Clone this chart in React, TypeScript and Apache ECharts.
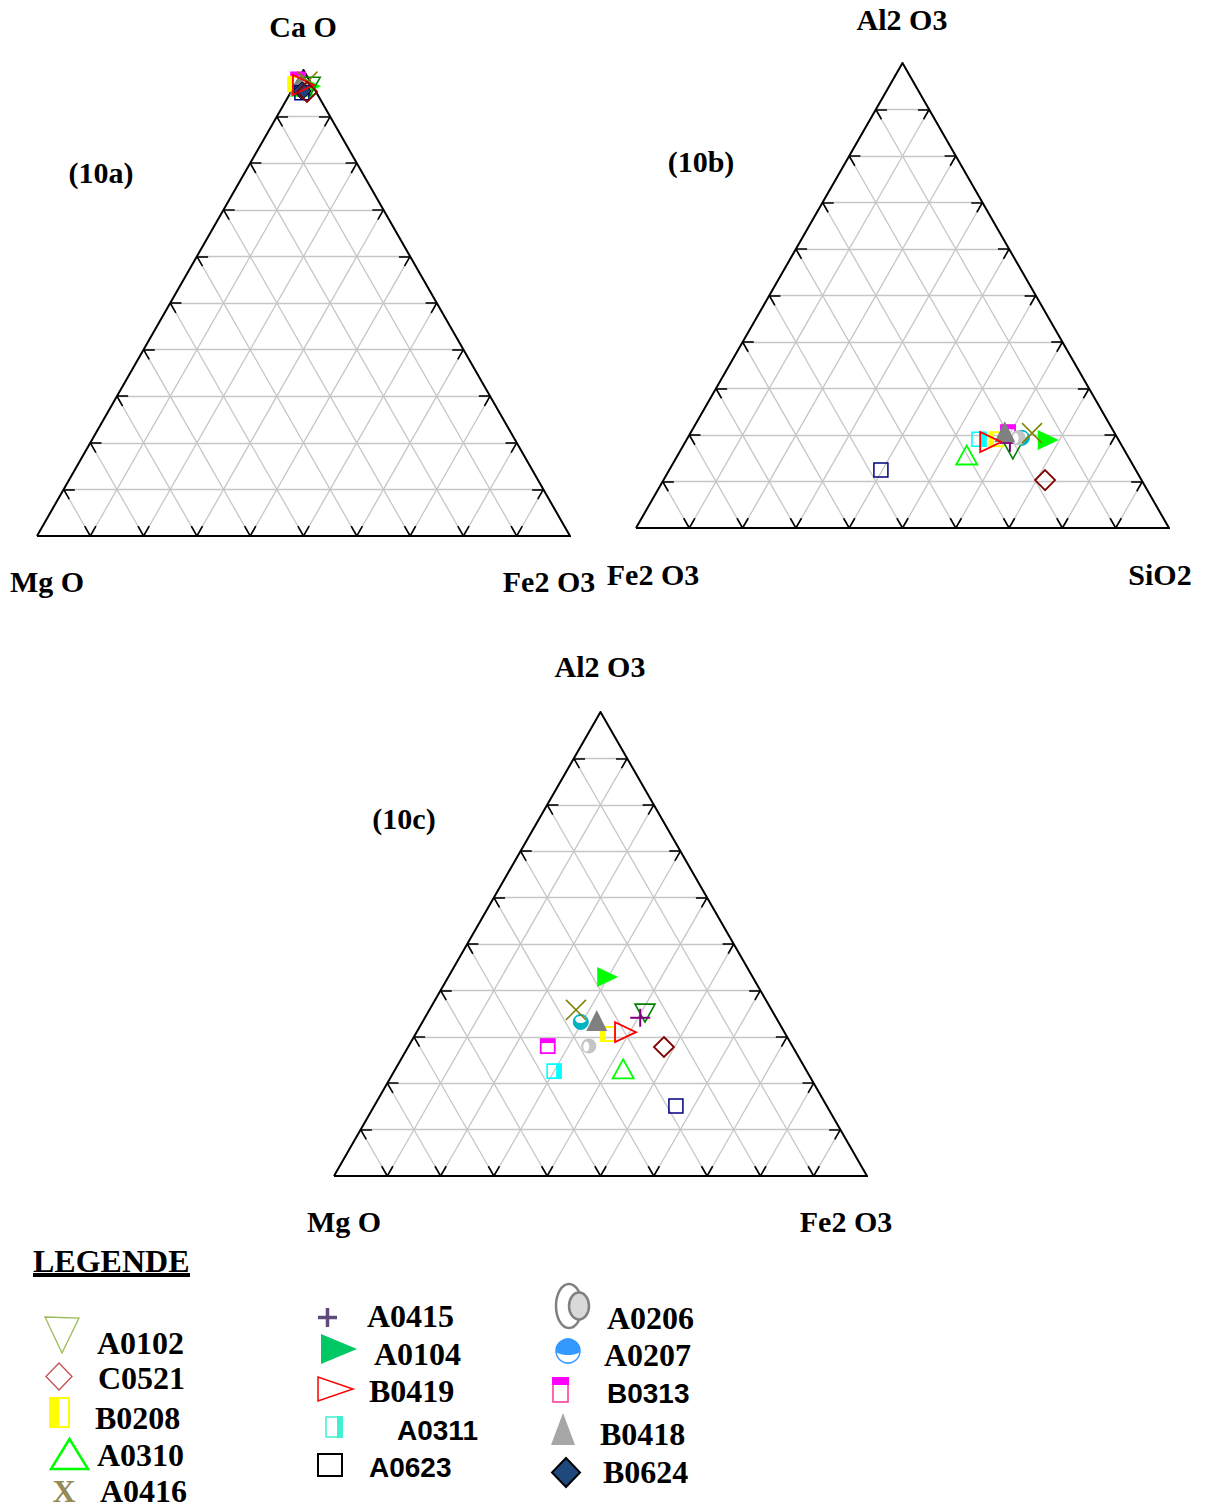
import React, { useEffect, useRef } from "react";
import * as echarts from "echarts";

// ---------------- DATA ----------------
const SAMPLES = ["A0102", "C0521", "B0208", "A0310", "A0416", "A0415", "A0104", "B0419", "A0311", "A0623", "A0206", "A0207", "B0313", "B0418", "B0624"];

// Diagram 10a : CaO (top) – MgO (left) – Fe2O3 (right), %
const CAO_10A = [96.5, 95.3, 97.0, 96.5, 97.5, 96.5, 96.5, 96.8, 97.0, 95.1, 96.5, 96.5, 98.0, 96.8, 95.5];
const MGO_10A = [0.5, 1.7, 3.0, 2.0, 0.5, 2.0, 0.5, 1.7, 3.0, 2.75, 2.0, 2.0, 2.0, 2.3, 2.5];
const FE2O3_10A = [3.0, 3.0, 0.0, 1.5, 2.0, 1.5, 3.0, 1.5, 0.0, 2.15, 1.5, 1.5, 0.0, 0.9, 2.0];

// Diagram 10b : Al2O3 (top) – Fe2O3 (left) – SiO2 (right), %
const AL2O3_10B = [16.8, 10.3, 19.1, 15.7, 20.4, 18.3, 18.9, 18.5, 19.1, 12.5, 19.4, 19.4, 20.6, 20.6, null];
const FE2O3_10B = [20.9, 18.1, 22.8, 30.1, 15.5, 20.7, 13.3, 24.3, 26.1, 47.8, 18.6, 17.9, 19.9, 20.5, null];
const SIO2_10B = [62.3, 71.6, 58.1, 54.2, 64.1, 61.0, 67.8, 57.2, 54.8, 39.7, 62.0, 62.7, 59.5, 58.9, null];

// Diagram 10c : Al2O3 (top) – MgO (left) – Fe2O3 (right), %
const AL2O3_10C = [35.1, 27.8, 30.6, 23.1, 35.8, 34.1, 42.9, 31.0, 22.6, 15.1, 28.0, 33.2, 28.0, 33.4, null];
const MGO_10C = [24.1, 24.2, 33.3, 34.2, 36.7, 25.5, 27.3, 29.9, 47.4, 28.3, 38.2, 37.1, 45.9, 34.0, null];
const FE2O3_10C = [40.8, 48.0, 36.1, 42.7, 27.5, 40.4, 29.8, 39.1, 30.0, 56.6, 33.8, 29.7, 26.1, 32.6, null];

// grid fractions (10 % steps)
const GRID_STEPS = [0.1, 0.2, 0.3, 0.4, 0.5, 0.6, 0.7, 0.8, 0.9];

// drawing order (last on top)
const DRAW_ORDER = ["B0313", "A0311", "B0208", "A0310", "A0104", "A0102", "A0415", "A0207", "A0206", "B0418", "A0416", "A0623", "B0624", "B0419", "C0521"];

// ---------------- LAYOUT ----------------
const SERIF = '"Liberation Serif", "Times New Roman", serif';
const SANS = '"Liberation Sans", Arial, sans-serif';
const TICK_LEN = 0.021;

const DIAGRAMS = [
  {
    top: CAO_10A, left: MGO_10A, right: FE2O3_10A,
    box: { left: 37, top: 70, width: 533, height: 466 },
    labels: [
      { text: "Ca O", x: 303, y: 26 },
      { text: "Mg O", x: 47, y: 581 },
      { text: "Fe2 O3", x: 549, y: 581 },
      { text: "(10a)", x: 101, y: 172 },
    ],
  },
  {
    top: AL2O3_10B, left: FE2O3_10B, right: SIO2_10B,
    box: { left: 636, top: 63, width: 533, height: 465 },
    labels: [
      { text: "Al2 O3", x: 902, y: 19 },
      { text: "Fe2 O3", x: 653, y: 574 },
      { text: "SiO2", x: 1160, y: 574 },
      { text: "(10b)", x: 701, y: 161 },
    ],
  },
  {
    top: AL2O3_10C, left: MGO_10C, right: FE2O3_10C,
    box: { left: 334, top: 712, width: 533, height: 464 },
    labels: [
      { text: "Al2 O3", x: 600, y: 666 },
      { text: "Mg O", x: 344, y: 1221 },
      { text: "Fe2 O3", x: 846, y: 1221 },
      { text: "(10c)", x: 404, y: 818 },
    ],
  },
];

function toXY(t: number, l: number, r: number) {
  const s = t + l + r;
  const tt = t / s;
  const rr = r / s;
  return [rr + tt / 2, tt];
}

function gridSegments() {
  const segs: number[][][] = [];
  for (const f of GRID_STEPS) {
    segs.push([[f / 2, f], [1 - f / 2, f]]);
    segs.push([[f, 0], [f + (1 - f) / 2, 1 - f]]);
    segs.push([[1 - f, 0], [(1 - f) / 2, 1 - f]]);
  }
  return segs;
}

function tickSegments(segs: number[][][]) {
  const out: number[][][] = [];
  for (const [a, b] of segs) {
    const dx = b[0] - a[0];
    const dy = b[1] - a[1];
    const len = Math.hypot(dx, (dy * Math.sqrt(3)) / 2);
    const k = TICK_LEN / len;
    out.push([a, [a[0] + dx * k, a[1] + dy * k]]);
    out.push([b, [b[0] - dx * k, b[1] - dy * k]]);
  }
  return out;
}

const OUTLINE = [[0, 0], [1, 0], [0.5, 1], [0, 0]];

// ---------------- MARKERS ----------------
const none = "none";
function poly(points: number[][], style: any) {
  return { type: "polygon", shape: { points }, style };
}
function seg(x1: number, y1: number, x2: number, y2: number, stroke: string, lineWidth: number) {
  return { type: "line", shape: { x1, y1, x2, y2 }, style: { stroke, lineWidth } };
}
function rect(x: number, y: number, w: number, h: number, style: any) {
  return { type: "rect", shape: { x, y, width: w, height: h }, style };
}

function plotMarker(name: string, cx: number, cy: number): any[] {
  switch (name) {
    case "A0102":
      return [poly([[cx - 10, cy - 9], [cx + 10, cy - 9], [cx, cy + 9]], { fill: none, stroke: "#008000", lineWidth: 1.6 })];
    case "C0521":
      return [poly([[cx, cy - 10], [cx + 10, cy], [cx, cy + 10], [cx - 10, cy]], { fill: none, stroke: "#800000", lineWidth: 1.8 })];
    case "B0208":
      return [
        rect(cx - 7.5, cy - 7.5, 5, 15, { fill: "#FFFF00" }),
        rect(cx - 7, cy - 7, 14, 14, { fill: none, stroke: "#FFFF00", lineWidth: 2 }),
      ];
    case "A0310":
      return [poly([[cx - 10.5, cy + 9.5], [cx + 10.5, cy + 9.5], [cx, cy - 9.5]], { fill: none, stroke: "#00FF00", lineWidth: 1.8 })];
    case "A0416":
      return [seg(cx - 10, cy - 10, cx + 10, cy + 10, "#808000", 1.5), seg(cx + 10, cy - 10, cx - 10, cy + 10, "#808000", 1.5)];
    case "A0415":
      return [seg(cx - 10, cy, cx + 10, cy, "#800080", 2), seg(cx, cy - 9, cx, cy + 9, "#800080", 2)];
    case "A0104":
      return [poly([[cx - 10, cy - 10], [cx - 10, cy + 10], [cx + 11, cy]], { fill: "#00FF00" })];
    case "B0419":
      return [poly([[cx - 10, cy - 10], [cx - 10, cy + 10], [cx + 11, cy]], { fill: none, stroke: "#FF0000", lineWidth: 1.8 })];
    case "A0311":
      return [
        rect(cx + 2, cy - 7.5, 5, 15, { fill: "#00FFFF" }),
        rect(cx - 7, cy - 7, 14, 14, { fill: none, stroke: "#00FFFF", lineWidth: 1.6 }),
      ];
    case "A0623":
      return [rect(cx - 7, cy - 7, 14, 14, { fill: none, stroke: "#000080", lineWidth: 1.5 })];
    case "A0206":
      return [
        { type: "circle", shape: { cx, cy, r: 7.5 }, style: { fill: "#C4C4C4" } },
        { type: "ellipse", shape: { cx: cx - 2.5, cy: cy + 0.5, rx: 3, ry: 5.2 }, style: { fill: "#FFFFFF" } },
      ];
    case "A0207":
      return [
        { type: "circle", shape: { cx, cy, r: 7.5 }, style: { fill: "#00B4C4", stroke: "#00B4C4", lineWidth: 1 } },
        { type: "ellipse", shape: { cx, cy: cy - 2.5, rx: 5.5, ry: 3.5 }, style: { fill: "#FFFFFF" } },
      ];
    case "B0313":
      return [
        rect(cx - 7.5, cy - 7.5, 15, 4.5, { fill: "#FF00FF" }),
        rect(cx - 7, cy - 7, 14, 14, { fill: none, stroke: "#FF00FF", lineWidth: 1.8 }),
      ];
    case "B0418":
      return [poly([[cx - 10.5, cy + 10], [cx + 10.5, cy + 10], [cx, cy - 11]], { fill: "#808080" })];
    case "B0624":
      return [poly([[cx, cy - 9], [cx + 9, cy], [cx, cy + 9], [cx - 9, cy]], { fill: "#1F3F7F", stroke: "#000", lineWidth: 1 })];
  }
  return [];
}

function legendMarkers(): any[] {
  return [
    // column 1
    poly([[45, 1317], [79, 1318], [62, 1353]], { fill: none, stroke: "#9BBB59", lineWidth: 1.3 }),
    poly([[59, 1363], [72, 1376.5], [59, 1390], [46, 1376.5]], { fill: none, stroke: "#C0504D", lineWidth: 1.3 }),
    rect(50, 1398, 19, 29, { fill: "#FFFFFF", stroke: "#FFFF00", lineWidth: 2 }),
    rect(49, 1397, 10, 31, { fill: "#FFFF00" }),
    poly([[51, 1469], [88, 1469], [69.5, 1439]], { fill: none, stroke: "#00FF00", lineWidth: 2.5 }),
    { type: "text", x: 64, y: 1491, style: { text: "X", fill: "#948A54", fontSize: 32, fontWeight: "bold", fontFamily: SERIF, textAlign: "center", textVerticalAlign: "middle" } },
    // column 2
    seg(318, 1317.5, 337, 1317.5, "#604A7B", 3.5),
    seg(327.5, 1308, 327.5, 1327, "#604A7B", 3.5),
    poly([[321, 1334], [321, 1364], [357, 1349]], { fill: "#00C864" }),
    poly([[318, 1377], [318, 1401], [353, 1389]], { fill: none, stroke: "#FF0000", lineWidth: 1.5 }),
    rect(326, 1417, 16, 20, { fill: "#FFFFFF", stroke: "#40F0D0", lineWidth: 1.5 }),
    rect(337, 1416, 6, 22, { fill: "#40F0D0" }),
    rect(318, 1454, 24, 22, { fill: none, stroke: "#000000", lineWidth: 2 }),
    // column 3
    { type: "ellipse", shape: { cx: 569, cy: 1306, rx: 13, ry: 22 }, style: { fill: none, stroke: "#808080", lineWidth: 2.5 } },
    { type: "ellipse", shape: { cx: 579, cy: 1306, rx: 10, ry: 13.5 }, style: { fill: "#D9D9D9", stroke: "#808080", lineWidth: 2.5 } },
    { type: "circle", shape: { cx: 568, cy: 1351, r: 12 }, style: { fill: "#FFFFFF", stroke: "#3399FF", lineWidth: 1.5 } },
    { type: "sector", shape: { cx: 568, cy: 1351, r: 12, r0: 0, startAngle: Math.PI, endAngle: Math.PI * 2 }, style: { fill: "#3399FF" } },
    { type: "ellipse", shape: { cx: 568, cy: 1351, rx: 12, ry: 4 }, style: { fill: "#3399FF" } },
    rect(553, 1378, 15, 24, { fill: "#FFFFFF", stroke: "#FF3399", lineWidth: 1.5 }),
    rect(552, 1377, 17, 8, { fill: "#FF00FF" }),
    poly([[551, 1445], [575, 1445], [563, 1413]], { fill: "#A6A6A6" }),
    poly([[566, 1458], [580, 1472.5], [566, 1487], [552, 1472.5]], { fill: "#1F497D", stroke: "#000000", lineWidth: 2 }),
  ];
}

const LEGEND_LABELS = [
  { text: "A0102", x: 97, y: 1343, sans: false },
  { text: "C0521", x: 98, y: 1378, sans: false },
  { text: "B0208", x: 95, y: 1418, sans: false },
  { text: "A0310", x: 97, y: 1455, sans: false },
  { text: "A0416", x: 100, y: 1491, sans: false },
  { text: "A0415", x: 367, y: 1316, sans: false },
  { text: "A0104", x: 374, y: 1354, sans: false },
  { text: "B0419", x: 369, y: 1391, sans: false },
  { text: "A0311", x: 397, y: 1430, sans: true },
  { text: "A0623", x: 369, y: 1467, sans: true },
  { text: "A0206", x: 607, y: 1318, sans: false },
  { text: "A0207", x: 604, y: 1355, sans: false },
  { text: "B0313", x: 607, y: 1393, sans: true },
  { text: "B0418", x: 600, y: 1434, sans: false },
  { text: "B0624", x: 603, y: 1472, sans: false },
];

function buildOption() {
  const grids: any[] = [];
  const xAxes: any[] = [];
  const yAxes: any[] = [];
  const series: any[] = [];
  const graphics: any[] = [];
  const gsegs = gridSegments();
  const tsegs = tickSegments(gsegs);

  DIAGRAMS.forEach((d, i) => {
    grids.push({ ...d.box });
    xAxes.push({ type: "value", gridIndex: i, min: 0, max: 1, show: false });
    yAxes.push({ type: "value", gridIndex: i, min: 0, max: 1, show: false });
    series.push({
      type: "lines", coordinateSystem: "cartesian2d", xAxisIndex: i, yAxisIndex: i, silent: true, z: 1,
      data: gsegs.map((c) => ({ coords: c })),
      lineStyle: { color: "#C6C6C6", width: 1.3, opacity: 1 },
    });
    series.push({
      type: "lines", coordinateSystem: "cartesian2d", xAxisIndex: i, yAxisIndex: i, silent: true, z: 2,
      data: tsegs.map((c) => ({ coords: c })),
      lineStyle: { color: "#000000", width: 1.6, opacity: 1 },
    });
    series.push({
      type: "lines", coordinateSystem: "cartesian2d", polyline: true, xAxisIndex: i, yAxisIndex: i, silent: true, z: 3,
      data: [{ coords: OUTLINE }],
      lineStyle: { color: "#000000", width: 2, opacity: 1, join: "miter" },
    });
    DRAW_ORDER.forEach((name) => {
      const k = SAMPLES.indexOf(name);
      const t = d.top[k];
      const l = d.left[k];
      const r = d.right[k];
      if (t == null || l == null || r == null) return;
      series.push({
        type: "custom", name, xAxisIndex: i, yAxisIndex: i, clip: false, silent: true, z: 5,
        encode: { x: 0, y: 1 },
        data: [toXY(t, l, r)],
        renderItem: (_p: any, api: any) => {
          const p = api.coord([api.value(0), api.value(1)]);
          return { type: "group", children: plotMarker(name, p[0], p[1]) };
        },
      });
    });
    d.labels.forEach((lb) => {
      graphics.push({
        type: "text", x: lb.x, y: lb.y,
        style: { text: lb.text, fill: "#000", fontSize: 30, fontWeight: "bold", fontFamily: SERIF, textAlign: "center", textVerticalAlign: "middle" },
      });
    });
  });

  // legend
  graphics.push({
    type: "text", x: 33, y: 1261,
    style: { text: "LEGENDE", fill: "#000", fontSize: 32, fontWeight: "bold", fontFamily: SERIF, textAlign: "left", textVerticalAlign: "middle" },
  });
  graphics.push(rect(33, 1273, 157, 4, { fill: "#000" }));
  legendMarkers().forEach((m) => graphics.push(m));
  LEGEND_LABELS.forEach((lb) => {
    graphics.push({
      type: "text", x: lb.x, y: lb.y,
      style: {
        text: lb.text, fill: "#000", fontSize: lb.sans ? 28 : 32, fontWeight: "bold",
        fontFamily: lb.sans ? SANS : SERIF, textAlign: "left", textVerticalAlign: "middle",
      },
    });
  });

  return {
    animation: false,
    backgroundColor: "#FFFFFF",
    grid: grids,
    xAxis: xAxes,
    yAxis: yAxes,
    series,
    graphic: { elements: graphics },
  };
}

export default function App() {
  const ref = useRef<HTMLDivElement>(null);
  useEffect(() => {
    if (!ref.current) return;
    const chart = echarts.init(ref.current, null, { renderer: "svg", width: 1207, height: 1509 });
    chart.setOption(buildOption());
    return () => chart.dispose();
  }, []);
  return (
    <div
      ref={ref}
      style={{ position: "absolute", left: 0, top: 0, width: 1207, height: 1509, background: "#fff" }}
    />
  );
}
